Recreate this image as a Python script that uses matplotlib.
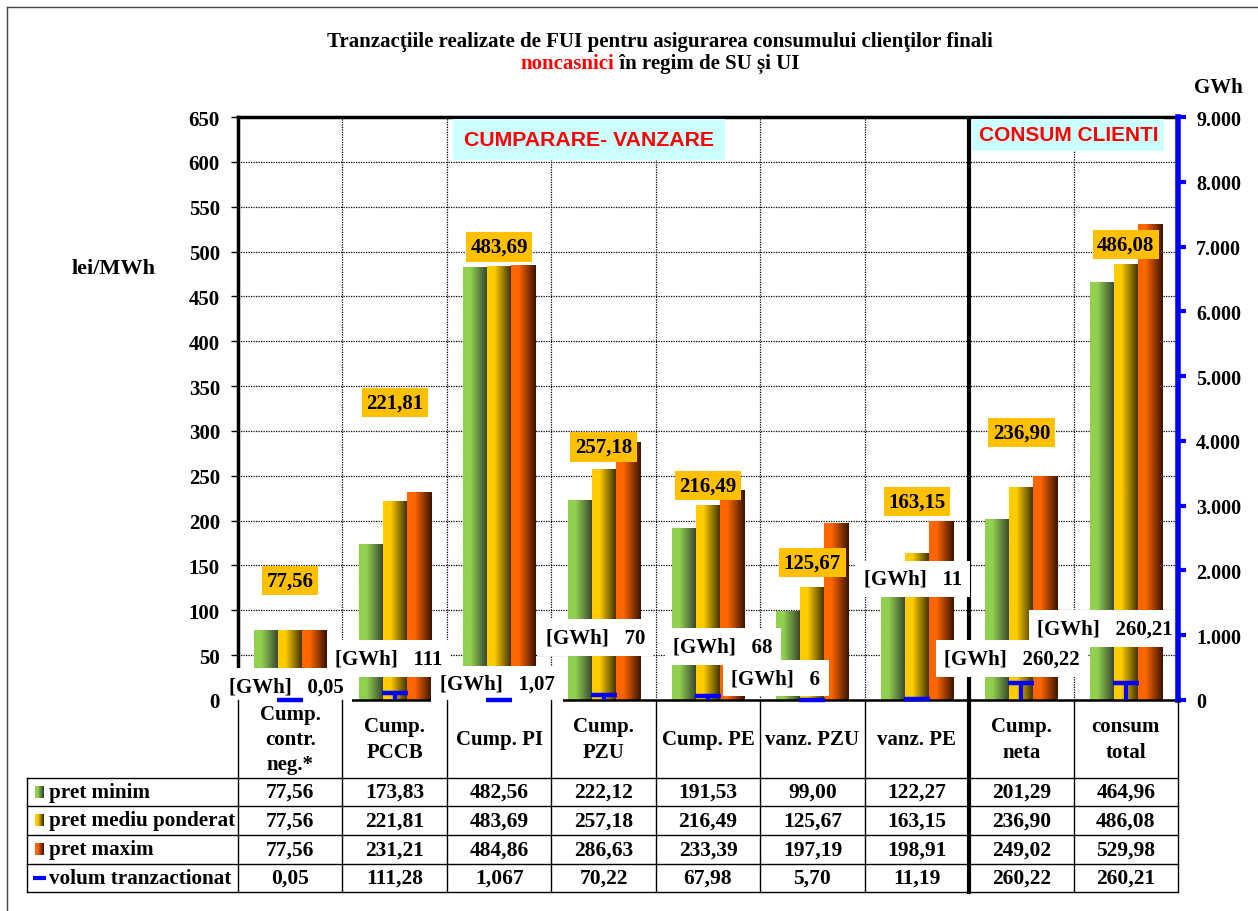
import numpy as np
import matplotlib
matplotlib.use("Agg")
import matplotlib.pyplot as plt
import matplotlib.colors as mcolors
from matplotlib.lines import Line2D
from matplotlib.ticker import FuncFormatter

plt.rcParams["font.family"] = "serif"
plt.rcParams["font.serif"] = ["Liberation Serif", "DejaVu Serif"]
plt.rcParams["font.weight"] = "bold"

# date
categories = ["Cump.\ncontr.\nneg.*", "Cump.\nPCCB", "Cump. PI", "Cump.\nPZU", "Cump. PE",
              "vanz. PZU", "vanz. PE", "Cump.\nneta", "consum\ntotal"]
pret_minim = [77.56, 173.83, 482.56, 222.12, 191.53, 99.00, 122.27, 201.29, 464.96]
pret_mediu = [77.56, 221.81, 483.69, 257.18, 216.49, 125.67, 163.15, 236.90, 486.08]
pret_maxim = [77.56, 231.21, 484.86, 286.63, 233.39, 197.19, 198.91, 249.02, 529.98]
volum = [0.05, 111.28, 1.067, 70.22, 67.98, 5.70, 11.19, 260.22, 260.21]
volum_text = ["0,05", "111,28", "1,067", "70,22", "67,98", "5,70", "11,19", "260,22", "260,21"]
volum_label = ["0,05", "111", "1,07", "70", "68", "6", "11", "260,22", "260,21"]
row_names = ["pret minim", "pret mediu ponderat", "pret maxim", "volum tranzactionat"]

# pozitii etichete (unitati lei/MWh si index categorie)
mean_label_y = [133, 332, 505, 282, 239, 153, 221, 298, 508]
gwh_label_x = [-0.04, 0.946, 1.98, 2.92, 4.14, 4.65, 5.96, 6.91, 7.80]
gwh_label_y = [15, 46, 18, 70, 60, 24.5, 135, 46, 80]

GREEN = ("#92d050", "#34402e")
YELLOW = ("#ffcc00", "#352b00")
ORANGE = ("#ff6600", "#3a1200")

W, H = 1258, 912


def fx(px):
    return px / W


def fy(py):
    return 1 - py / H


def gradient(light, dark, n=64):
    t = np.clip((np.linspace(0, 1, n) - 0.3) / 0.7, 0, 1)
    a = np.array(mcolors.to_rgb(light))
    b = np.array(mcolors.to_rgb(dark))
    img = a[None, :] * (1 - t[:, None]) + b[None, :] * t[:, None]
    return img[None, :, :]


def fmt_ro(v):
    return f"{v:.2f}".replace(".", ",")


fig = plt.figure(figsize=(W / 100, H / 100), dpi=100)
ax = fig.add_axes([fx(238), fy(701), fx(1178) - fx(238), fy(118) - fy(701)])

n = len(categories)
x = np.arange(n)
bw = 0.23
for k, (vals, (c1, c2)) in enumerate([(pret_minim, GREEN), (pret_mediu, YELLOW), (pret_maxim, ORANGE)]):
    bars = ax.bar(x + (k - 1) * bw, vals, width=bw, color="none", edgecolor="none", zorder=2)
    for b in bars:
        ax.imshow(gradient(c1, c2), extent=(b.get_x(), b.get_x() + b.get_width(), 0, b.get_height()),
                  aspect="auto", zorder=2, interpolation="bilinear")

ax.set_xlim(-0.5, n - 0.5)
ax.set_ylim(0, 650)
ax.set_yticks(range(0, 651, 50))
ax.set_xticks([])
ax.set_axisbelow(True)
ax.grid(axis="y", linestyle=(0, (1, 1)), color="black", linewidth=0.9)
for b in np.arange(0.5, n - 0.5):
    if b == 6.5:
        ax.axvline(b, color="black", linewidth=3, zorder=4)
    else:
        ax.axvline(b, color="black", linestyle=(0, (1, 1)), linewidth=0.9, zorder=1)
ax.tick_params(axis="y", direction="out", length=5, width=1, labelsize=15, pad=8)
ax.spines["left"].set_linewidth(2.5)
ax.spines["top"].set_linewidth(2.5)
ax.spines["bottom"].set_linewidth(1.8)
ax.spines["right"].set_visible(False)

# etichete pret mediu
for i in range(n):
    ax.text(x[i], mean_label_y[i], fmt_ro(pret_mediu[i]), ha="center", va="center", fontsize=15,
            zorder=6, bbox=dict(boxstyle="square,pad=0.22", facecolor="#ffc000", edgecolor="none"))
# etichete volum
for i in range(n):
    ax.text(gwh_label_x[i], gwh_label_y[i], "[GWh]   " + volum_label[i], ha="center", va="center",
            fontsize=15, zorder=5,
            bbox=dict(boxstyle="square,pad=0.4", facecolor="white", edgecolor="none"))

ax.text(2.86, 625, "CUMPARARE- VANZARE", ha="center", va="center", color="red", fontsize=15.3,
        fontfamily="Liberation Sans", zorder=6,
        bbox=dict(boxstyle="square,pad=0.5", facecolor="#ccffff", edgecolor="none"))
ax.text(7.45, 630, "CONSUM CLIENTI", ha="center", va="center", color="red", fontsize=15,
        fontfamily="Liberation Sans", zorder=6,
        bbox=dict(boxstyle="square,pad=0.3", facecolor="#ccffff", edgecolor="none"))

# axa secundara GWh
ax2 = ax.twinx()
ax2.set_ylim(0, 9000)
ax2.set_yticks(range(0, 9001, 1000))
ax2.yaxis.set_major_formatter(FuncFormatter(lambda v, p: f"{int(v):,}".replace(",", ".")))
ax2.tick_params(axis="y", color="blue", width=3, length=6, labelsize=14.5, pad=7)
for s in ["left", "top", "bottom"]:
    ax2.spines[s].set_visible(False)
ax2.spines["right"].set_color("blue")
ax2.spines["right"].set_linewidth(4)
ax2.vlines(x, 0, volum, color="blue", linewidth=3, zorder=3)
ax2.plot(x, volum, linestyle="none", marker="_", markersize=19, markeredgewidth=3.2,
         color="blue", clip_on=False, zorder=4)

# tabel
tax = fig.add_axes([fx(27), fy(893), fx(1178) - fx(27), fy(701) - fy(893)])
cw = (1178 - 238) / n
xleft = -0.5 - (238 - 27) / cw
tax.axis("off")
rows = [0, 78, 106, 135, 164, 192]
for r in rows[1:]:
    tax.plot([xleft, n - 0.5], [r, r], color="black", linewidth=1, clip_on=False)
tax.plot([xleft, xleft], [rows[1], rows[-1]], color="black", linewidth=1, clip_on=False)
tax.plot([-0.5, -0.5], [0, rows[-1]], color="black", linewidth=1, clip_on=False)
for b in np.arange(0.5, n):
    tax.plot([b, b], [0, rows[-1]], color="black", linewidth=3 if b == 6.5 else 1, clip_on=False)

for i in range(n):
    tax.text(x[i], rows[1] / 2, categories[i], ha="center", va="center", fontsize=15, linespacing=1.35)
    for j, vals in enumerate([pret_minim, pret_mediu, pret_maxim]):
        tax.text(x[i], (rows[j + 1] + rows[j + 2]) / 2, fmt_ro(vals[i]), ha="center", va="center",
                 fontsize=15.5)
    tax.text(x[i], (rows[4] + rows[5]) / 2, volum_text[i], ha="center", va="center", fontsize=15.5)

kx0 = xleft + 8 / cw
kx1 = xleft + 17 / cw
for j, (c1, c2) in enumerate([GREEN, YELLOW, ORANGE]):
    yc = (rows[j + 1] + rows[j + 2]) / 2
    tax.imshow(gradient(c1, c2, 16), extent=(kx0, kx1, yc + 6, yc - 6), aspect="auto", zorder=3)
yc = (rows[4] + rows[5]) / 2
tax.plot([xleft + 6 / cw, xleft + 19 / cw], [yc, yc], color="blue", linewidth=3, solid_capstyle="butt")
tax.set_xlim(xleft, n - 0.5)
tax.set_ylim(192, 0)
for j, name in enumerate(row_names):
    tax.text(xleft + 22 / cw, (rows[j + 1] + rows[j + 2]) / 2, name, ha="left", va="center", fontsize=15.2)

# titlu si etichete axe
fig.text(fx(660), fy(42), "Tranzacţiile realizate de FUI pentru asigurarea consumului clienţilor finali",
         ha="center", va="center", fontsize=15)
t_red = fig.text(0, fy(64), "noncasnici", ha="left", va="center", fontsize=15, color="red")
t_rest = fig.text(0, fy(64), " în regim de SU și UI", ha="left", va="center", fontsize=15)
renderer = fig.canvas.get_renderer()
w_red = t_red.get_window_extent(renderer).width
w_rest = t_rest.get_window_extent(renderer).width
start = 660 - (w_red + w_rest) / 2
t_red.set_x(fx(start))
t_rest.set_x(fx(start + w_red))
fig.text(fx(114), fy(269), "lei/MWh", ha="center", va="center", fontsize=16)
fig.text(fx(1218), fy(88), "GWh", ha="center", va="center", fontsize=15)

fig.add_artist(Line2D([fx(7), fx(7)], [fy(8), 0], color="#444444", linewidth=1))
fig.add_artist(Line2D([fx(7), 1], [fy(8), fy(8)], color="#444444", linewidth=1))

fig.savefig("out.png", dpi=100)
